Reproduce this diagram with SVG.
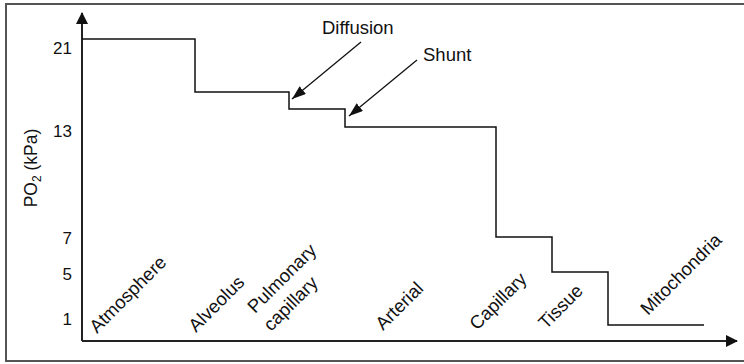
<svg xmlns="http://www.w3.org/2000/svg" width="744" height="364" viewBox="0 0 744 364">
  <style>
    text { font-family: "Liberation Sans", Arial, Helvetica, sans-serif; fill: #111; }
    .tick { font-size: 17px; text-anchor: end; }
    .lab { font-size: 18.5px; }
    .axis { stroke: #222; stroke-width: 2; fill: none; }
    .curve { stroke: #111; stroke-width: 1.5; fill: none; }
    .ann { stroke: #111; stroke-width: 1.3; fill: none; }
  </style>
  <defs>
    <marker id="axhead" markerUnits="userSpaceOnUse" viewBox="0 0 12 12" refX="11" refY="6" markerWidth="12" markerHeight="12" orient="auto">
      <path d="M0,0 L12,6 L0,12 z" fill="#111"/>
    </marker>
    <marker id="annhead" markerUnits="userSpaceOnUse" viewBox="0 0 14 10" refX="14" refY="5" markerWidth="14" markerHeight="10" orient="auto">
      <path d="M0,0 L14,5 L0,10 z" fill="#111"/>
    </marker>
  </defs>
  <rect x="6" y="4" width="745" height="357" fill="#fff" stroke="#555" stroke-width="2"/>

  <g id="axes">
    <line class="axis" x1="82" y1="341" x2="82" y2="13" marker-end="url(#axhead)"/>
    <line class="axis" x1="82" y1="341" x2="737" y2="341" marker-end="url(#axhead)"/>
  </g>

  <g id="ticks">
    <text class="tick" x="72" y="54">21</text>
    <text class="tick" x="72" y="137">13</text>
    <text class="tick" x="72" y="244">7</text>
    <text class="tick" x="72" y="280">5</text>
    <text class="tick" x="72" y="325">1</text>
  </g>

  <g id="ylabel">
    <text transform="translate(37,168) rotate(-90)" text-anchor="middle" font-size="17.5">PO<tspan font-size="12" dy="4">2</tspan><tspan dy="-4"> (kPa)</tspan></text>
  </g>

  <g id="po2-curve">
    <polyline class="curve" points="82,39 195,39 195,92 289,92 289,109 345,109 345,127 496,127 496,237 552,237 552,272 608,272 608,325 704,325"/>
  </g>

  <g id="stage-labels">
    <text class="lab" transform="translate(97,334) rotate(-45)">Atmosphere</text>
    <text class="lab" transform="translate(196,333) rotate(-45)">Alveolus</text>
    <text class="lab" transform="translate(255,314) rotate(-45)">Pulmonary</text>
    <text class="lab" transform="translate(271,332) rotate(-45)">capillary</text>
    <text class="lab" transform="translate(383,331) rotate(-45)">Arterial</text>
    <text class="lab" transform="translate(477,331) rotate(-45)">Capillary</text>
    <text class="lab" transform="translate(546,330) rotate(-45)">Tissue</text>
    <text class="lab" transform="translate(648,316) rotate(-45)">Mitochondria</text>
  </g>

  <g id="diffusion">
    <text class="lab" x="322" y="34">Diffusion</text>
  </g>
  <g id="shunt">
    <text class="lab" x="423" y="61">Shunt</text>
  </g>
  <g id="connectors">
    <line class="ann" x1="361" y1="42" x2="292" y2="99" marker-end="url(#annhead)"/>
    <line class="ann" x1="417" y1="60" x2="349" y2="116" marker-end="url(#annhead)"/>
  </g>
</svg>
